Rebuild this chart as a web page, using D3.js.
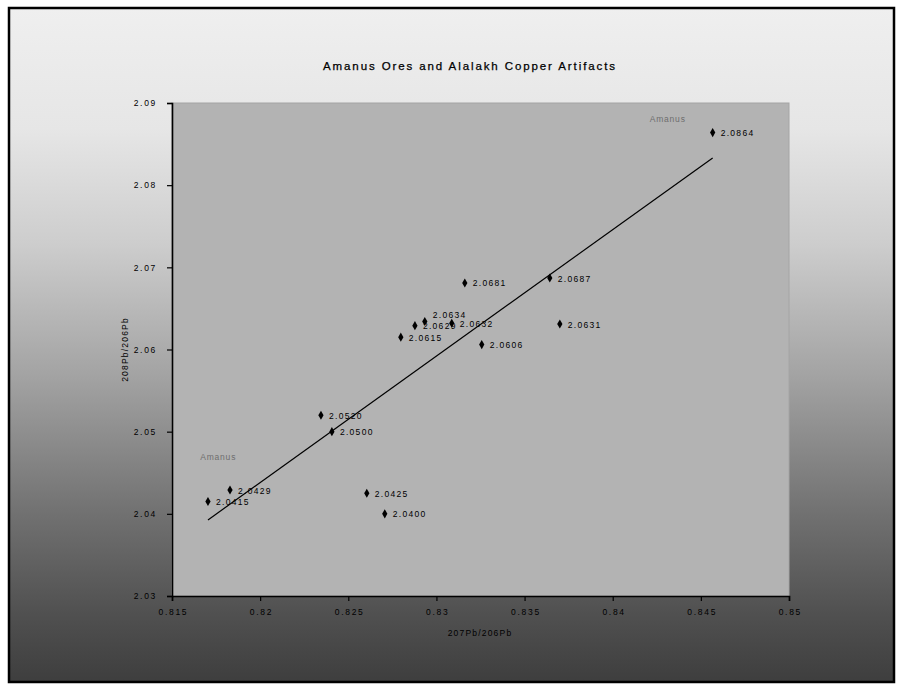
<!DOCTYPE html>
<html>
<head>
<meta charset="utf-8">
<script src="https://cdn.jsdelivr.net/npm/d3@7"></script>
<style>
  html, body { margin: 0; padding: 0; background: #ffffff; }
  svg { display: block; }
  text { font-family: "Liberation Sans", Arial, sans-serif; }
</style>
</head>
<body>
<svg id="chart" width="903" height="686"></svg>
<script>
// Lead isotope ratios: 207Pb/206Pb (x) and 208Pb/206Pb (y)
const ratio207 = [0.81704, 0.81829, 0.82605, 0.82707, 0.82345, 0.82407, 0.82798,
                  0.82878, 0.82934, 0.83087, 0.83161, 0.83257, 0.83643, 0.83700, 0.84567];
const ratio208 = [2.0415, 2.0429, 2.0425, 2.0400, 2.0520, 2.0500, 2.0615,
                  2.0629, 2.0634, 2.0632, 2.0681, 2.0606, 2.0687, 2.0631, 2.0864];
const pointLabels = ["2.0415", "2.0429", "2.0425", "2.0400", "2.0520", "2.0500", "2.0615",
                     "2.0629", "2.0634", "2.0632", "2.0681", "2.0606", "2.0687", "2.0631", "2.0864"];
const xTicks = [0.815, 0.82, 0.825, 0.83, 0.835, 0.84, 0.845, 0.85];
const yTicks = [2.03, 2.04, 2.05, 2.06, 2.07, 2.08, 2.09];
const sourceNotes = [
  { text: "Amanus", x: 0.8166, y: 2.0465 },
  { text: "Amanus", x: 0.8421, y: 2.0877 }
];

const svg = d3.select("#chart");
const W = 903, H = 686;

// Frame background with vertical gradient
const defs = svg.append("defs");
const grad = defs.append("linearGradient")
  .attr("id", "bg").attr("x1", 0).attr("y1", 0).attr("x2", 0).attr("y2", 1);
[[0, "#efefef"], [0.18, "#e6e6e6"], [0.35, "#cdcdcd"], [0.55, "#a2a2a2"],
 [0.75, "#717171"], [0.9, "#505050"], [1, "#3e3e3e"]]
  .forEach(([o, c]) => grad.append("stop").attr("offset", o).attr("stop-color", c));

svg.append("rect").attr("x", 0).attr("y", 0).attr("width", W).attr("height", H).attr("fill", "#ffffff");
svg.append("rect")
  .attr("x", 9).attr("y", 8).attr("width", 885).attr("height", 674)
  .attr("fill", "url(#bg)").attr("stroke", "#000").attr("stroke-width", 2.5);

const plot = { left: 172, right: 789, top: 103, bottom: 596 };
const x = d3.scaleLinear().domain([0.815, 0.85]).range([plot.left, plot.right]);
const y = d3.scaleLinear().domain([2.03, 2.09]).range([plot.bottom, plot.top]);

// Plot area
svg.append("rect")
  .attr("x", plot.left).attr("y", plot.top)
  .attr("width", plot.right - plot.left).attr("height", plot.bottom - plot.top)
  .attr("fill", "#b3b3b3").attr("stroke", "#a4a4a4").attr("stroke-width", 1);

// Title
svg.append("text")
  .attr("x", 469).attr("y", 70).attr("text-anchor", "middle")
  .attr("font-size", 11.5).attr("fill", "#000").attr("stroke", "#000").attr("stroke-width", 0.25)
  .attr("textLength", 292).attr("lengthAdjust", "spacing")
  .text("Amanus Ores and Alalakh Copper Artifacts");

// Axes
const xAxis = d3.axisBottom(x).tickValues(xTicks).tickSize(5).tickPadding(8)
  .tickFormat(d3.format(".3~f"));
const yAxis = d3.axisLeft(y).tickValues(yTicks).tickSize(5).tickPadding(10)
  .tickFormat(d3.format(".2f"));

const gx = svg.append("g").attr("transform", `translate(0,${plot.bottom})`).call(xAxis);
const gy = svg.append("g").attr("transform", `translate(${plot.left},0)`).call(yAxis);
[gx, gy].forEach(g => {
  g.select(".domain").attr("stroke", "#000").attr("stroke-width", 1.6);
  g.selectAll(".tick line").attr("stroke", "#000").attr("stroke-width", 1.2);
  g.selectAll(".tick text").attr("fill", "#000").attr("font-size", 8.5)
    .attr("letter-spacing", 1.7).attr("font-family", "Liberation Sans, Arial, sans-serif");
});
gx.selectAll(".tick text").attr("dx", "0.1em");

// Axis titles
svg.append("text")
  .attr("x", 480).attr("y", 636).attr("text-anchor", "middle")
  .attr("font-size", 8.5).attr("letter-spacing", 1.2).attr("fill", "#000")
  .text("207Pb/206Pb");
svg.append("text")
  .attr("transform", `translate(128,${(plot.top + plot.bottom) / 2}) rotate(-90)`)
  .attr("text-anchor", "middle")
  .attr("font-size", 8.5).attr("letter-spacing", 1.2).attr("fill", "#000")
  .text("208Pb/206Pb");

// Linear least-squares trend line over the data range
const n = ratio207.length;
const mx = d3.mean(ratio207), my = d3.mean(ratio208);
let sxy = 0, sxx = 0;
for (let i = 0; i < n; i++) {
  sxy += (ratio207[i] - mx) * (ratio208[i] - my);
  sxx += (ratio207[i] - mx) ** 2;
}
const slope = sxy / sxx, intercept = my - slope * mx;
const xMin = d3.min(ratio207), xMax = d3.max(ratio207);
svg.append("line")
  .attr("x1", x(xMin)).attr("y1", y(intercept + slope * xMin))
  .attr("x2", x(xMax)).attr("y2", y(intercept + slope * xMax))
  .attr("stroke", "#000").attr("stroke-width", 1.2);

// Points
const pts = ratio207.map((v, i) => ({ x: v, y: ratio208[i], label: pointLabels[i] }));
const diamond = d3.symbol().type(d3.symbolDiamond).size(24);
svg.append("g").selectAll("path").data(pts).join("path")
  .attr("d", diamond)
  .attr("transform", d => `translate(${x(d.x)},${y(d.y)})`)
  .attr("fill", "#000");

// Point value labels; the crowded 2.0634 label sits a little higher
const lift = { "2.0634": -7 };
svg.append("g").selectAll("text").data(pts).join("text")
  .attr("x", d => x(d.x) + 8).attr("y", d => y(d.y) + 3.5 + (lift[d.label] || 0))
  .attr("font-size", 8.5).attr("letter-spacing", 1.3).attr("fill", "#000")
  .text(d => d.label);

// Source notes
svg.append("g").selectAll("text").data(sourceNotes).join("text")
  .attr("x", d => x(d.x)).attr("y", d => y(d.y))
  .attr("font-size", 8.5).attr("letter-spacing", 0.8).attr("fill", "#6e6e6e")
  .text(d => d.text);
</script>
</body>
</html>
